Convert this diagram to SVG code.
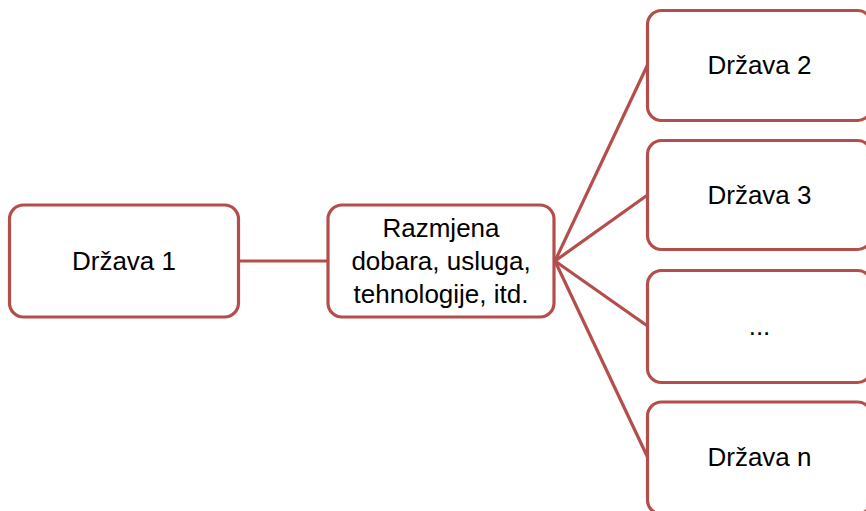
<svg xmlns="http://www.w3.org/2000/svg" width="866" height="511" viewBox="0 0 866 511">
<style>
.box{fill:#FFFFFF;stroke:#B44E4B;stroke-width:3.2}
.lbl{font-family:"Liberation Sans",Arial,sans-serif;font-size:26px;fill:#000000;text-anchor:middle}
.con{stroke:#B44E4B;stroke-width:3.2;fill:none}
</style>
<rect width="866" height="511" fill="#FFFFFF"/>
<g id="connectors">
<line class="con" x1="238" y1="261" x2="328" y2="261"/>
<line class="con" x1="555" y1="261" x2="647.5" y2="65"/>
<line class="con" x1="555" y1="261" x2="647.5" y2="195"/>
<line class="con" x1="555" y1="261" x2="647.5" y2="326"/>
<line class="con" x1="555" y1="261" x2="647.5" y2="457"/>
</g>
<g id="drzava1">
<rect class="box" x="9.5" y="205" width="229" height="112" rx="14"/>
<text class="lbl" x="124" y="270">Država 1</text>
</g>
<g id="razmjena">
<rect class="box" x="328" y="205" width="226" height="112" rx="14"/>
<text class="lbl" x="441" y="237">Razmjena</text>
<text class="lbl" x="441" y="270">dobara, usluga,</text>
<text class="lbl" x="441" y="303">tehnologije, itd.</text>
</g>
<g id="drzava2">
<rect class="box" x="647.5" y="10.5" width="224" height="110" rx="14"/>
<text class="lbl" x="759.5" y="74">Država 2</text>
</g>
<g id="drzava3">
<rect class="box" x="647.5" y="140.5" width="224" height="109" rx="14"/>
<text class="lbl" x="759.5" y="204">Država 3</text>
</g>
<g id="ostale">
<rect class="box" x="647.5" y="270.5" width="224" height="112" rx="14"/>
<text class="lbl" x="759.5" y="335">...</text>
</g>
<g id="drzavan">
<rect class="box" x="647.5" y="402" width="224" height="112" rx="14"/>
<text class="lbl" x="759.5" y="466">Država n</text>
</g>
</svg>
